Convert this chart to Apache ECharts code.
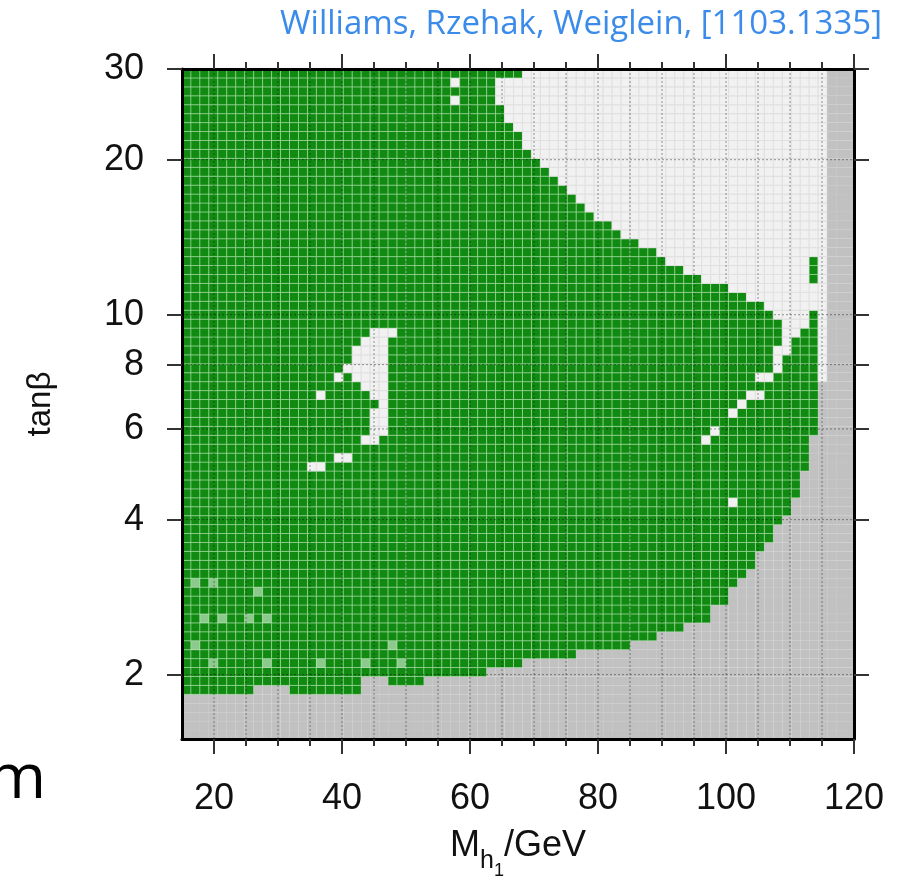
<!DOCTYPE html>
<html><head><meta charset="utf-8">
<script src="https://cdn.jsdelivr.net/npm/echarts@6/dist/echarts.min.js"></script>
<style>html,body{margin:0;padding:0;background:#fff}#c{width:903px;height:876px}</style>
</head><body><div id="c"></div>
<script>
// ---- tick values ----
const massTicksMajor = [20, 40, 60, 80, 100, 120];
const massTicksMinor = [25, 30, 35, 45, 50, 55, 65, 70, 75, 85, 90, 95, 105, 110, 115];
const tanbTicks = [2, 4, 6, 8, 10, 20, 30];

// ---- regions: [M_h1 (GeV), tan beta] ----
// grey: excluded region (bottom + right strip)
const excludedRegion = [
  [15, 1.5], [15, 1.86], [26, 1.86], [26, 1.9], [31.5, 1.9], [31.5, 1.86], [43.2, 1.86],
  [43.2, 1.95], [47, 1.95], [47, 1.9], [53.2, 1.9], [53.2, 1.97], [62, 1.97], [62, 2.04],
  [67.8, 2.04], [67.8, 2.12], [72.5, 2.12], [72.5, 2.14], [77.2, 2.14], [77.2, 2.22],
  [80.3, 2.22], [80.3, 2.26], [85, 2.26], [85, 2.32], [89.7, 2.32], [89.7, 2.42],
  [93.9, 2.42], [93.9, 2.53], [97, 2.53], [97, 2.68], [100.1, 2.68], [100.1, 2.89],
  [102.2, 3.07], [104.8, 3.35], [106.9, 3.67], [108.9, 4.0], [111.1, 4.38], [112, 4.79],
  [113.1, 5.24], [113.6, 5.72], [114.2, 6.26], [114.4, 6.84], [114.8, 7.4],
  [116.4, 7.4], [116.0, 30], [120, 30], [120, 1.5]
];
// light: region not allowed (top right)
const lightRegion = [
  [68.1, 30], [116.0, 30], [116.4, 7.4], [114.8, 7.4], [114.8, 10.0], [113.6, 10.1],
  [112.0, 9.35], [110.0, 8.67], [108.4, 8.07], [106.9, 7.55], [105.8, 7.3],
  [106.4, 7.55], [107.2, 8.07], [108.2, 8.6], [108.4, 9.23], [108.1, 9.91],
  [106.9, 10.3], [104.8, 10.7], [97.9, 11.5], [92.3, 12.4], [88.1, 13.4], [83.4, 14.4],
  [79.8, 15.5], [76.7, 16.7], [73.6, 18.0], [71.2, 19.3], [69.4, 20.9], [67.5, 22.5],
  [65.9, 24.2], [64.4, 26.1], [63.9, 28.1], [63.9, 29.2], [68.1, 29.2]
];
// light island around M_h1 ~ 45 GeV
const lightIsland = [
  [43.9, 9.45], [48.7, 9.45], [47.5, 8.9], [47.5, 6.8], [47.0, 6.2], [46.4, 5.9],
  [44.8, 5.55], [42.8, 5.5], [44.3, 6.0], [45.4, 6.8], [42.3, 7.55], [39.7, 7.6],
  [39.7, 8.1], [41.2, 8.2], [41.2, 8.85], [43.9, 8.9]
];
// isolated light points
const lightPoints = [
  [41, 5.38], [39, 5.26], [36.0, 5.14], [35.2, 5.14], [38.9, 7.42], [37.0, 6.94],
  [57.3, 28.8], [57.9, 26.1],
  [105.8, 7.42], [104.8, 7.1], [103.7, 6.94], [102.8, 6.7], [101.7, 6.46],
  [98.6, 5.91], [97.0, 5.65], [101.7, 4.38], [107.6, 8.0]
];
// faint points in the allowed region (bottom left)
const faintPoints = [
  [16.5, 3.02], [17.3, 2.24], [19.3, 2.14], [20.1, 2.96], [20.6, 2.58], [25.1, 2.58],
  [26.4, 2.89], [27.6, 2.53], [27.6, 2.09], [36.8, 2.14], [43.9, 2.09], [47.2, 2.29],
  [48.6, 2.09], [18.1, 2.58]
];
// isolated allowed (green) points inside the light region
const greenPoints = [[113.5, 11.7], [113.5, 12.3], [113.5, 12.9]];

const MASS_MIN = 15, MASS_MAX = 120, TANB_MIN = 1.5, TANB_MAX = 30;
const NX = 75, NY = 75; // rendering resolution of the scan grid

function inPoly(p, poly) {
  let inside = false;
  for (let i = 0, j = poly.length - 1; i < poly.length; j = i++) {
    const xi = poly[i][0], yi = poly[i][1], xj = poly[j][0], yj = poly[j][1];
    if (((yi > p[1]) !== (yj > p[1])) && (p[0] < (xj - xi) * (p[1] - yi) / (yj - yi) + xi)) inside = !inside;
  }
  return inside;
}

const STYLE = {
  g: { fill: '#118a11', stroke: 'rgba(190,235,190,0.45)', lineWidth: 1 },
  f: { fill: '#8cc98c', stroke: 'rgba(190,235,190,0.45)', lineWidth: 1 },
  w: { fill: '#f1f1f1', stroke: '#e0e0e0', lineWidth: 1 },
  x: { fill: '#c1c1c1' }
};

function renderCells(params, api) {
  const toPx = poly => poly.map(p => api.coord(p));
  const exPx = toPx(excludedRegion), lPx = toPx(lightRegion), iPx = toPx(lightIsland);
  const dx = (MASS_MAX - MASS_MIN) / NX;
  const ratio = TANB_MAX / TANB_MIN;
  const xs = [], ys = [];
  for (let i = 0; i <= NX; i++) xs.push(api.coord([MASS_MIN + i * dx, TANB_MIN])[0]);
  for (let j = 0; j <= NY; j++) ys.push(api.coord([MASS_MIN, TANB_MIN * Math.pow(ratio, j / NY)])[1]);
  const cls = [];
  for (let i = 0; i < NX; i++) {
    cls.push([]);
    for (let j = 0; j < NY; j++) {
      const c = [(xs[i] + xs[i + 1]) / 2, (ys[j] + ys[j + 1]) / 2];
      let k = 'g';
      if (inPoly(c, exPx)) k = 'x';
      if (inPoly(c, lPx) || inPoly(c, iPx)) k = 'w';
      cls[i].push(k);
    }
  }
  const cellOf = p => [Math.floor((p[0] - MASS_MIN) / dx), Math.floor(Math.log(p[1] / TANB_MIN) / Math.log(ratio) * NY)];
  const mark = (pts, k) => pts.forEach(p => { const c = cellOf(p); if (cls[c[0]] && cls[c[0]][c[1]]) cls[c[0]][c[1]] = k; });
  mark(lightPoints, 'w');
  mark(faintPoints, 'f');
  mark(greenPoints, 'g');
  const children = [];
  for (let i = 0; i < NX; i++) {
    for (let j = 0; j < NY; j++) {
      children.push({
        type: 'rect',
        shape: { x: xs[i], y: ys[j + 1], width: xs[i + 1] - xs[i], height: ys[j] - ys[j + 1] },
        style: STYLE[cls[i][j]]
      });
    }
  }
  const dot = { stroke: 'rgba(0,0,0,0.4)', lineWidth: 1, lineDash: [2, 2] };
  massTicksMajor.concat(massTicksMinor).forEach(m => {
    if (m >= MASS_MAX) return;
    const a = api.coord([m, TANB_MIN]), b = api.coord([m, TANB_MAX]);
    children.push({ type: 'line', shape: { x1: a[0], y1: a[1], x2: b[0], y2: b[1] }, style: dot });
  });
  tanbTicks.forEach(t => {
    if (t >= TANB_MAX) return;
    const a = api.coord([MASS_MIN, t]), b = api.coord([MASS_MAX, t]);
    children.push({ type: 'line', shape: { x1: a[0], y1: a[1], x2: b[0], y2: b[1] }, style: dot });
  });
  return { type: 'group', children };
}

const FONT = 'Liberation Sans';
const baseX = {
  type: 'value', gridIndex: 0, min: MASS_MIN, max: MASS_MAX, interval: 5, z: 10,
  splitLine: { show: false }
};
const chart = echarts.init(document.getElementById('c'));
chart.setOption({
  animation: false,
  backgroundColor: '#fff',
  grid: { left: 182, top: 69, right: 49, bottom: 137, containLabel: false, outerBoundsMode: 'none' },
  xAxis: [
    Object.assign({}, baseX, {
      position: 'bottom',
      axisLine: { show: true, onZero: false, lineStyle: { color: '#000', width: 3 } },
      axisTick: { show: true, length: 15, customValues: massTicksMajor, lineStyle: { color: '#333', width: 2 } },
      axisLabel: { show: true, customValues: massTicksMajor, margin: 42, fontSize: 36, fontFamily: FONT, color: '#111' },
      name: '{m|M}{s|h}{ss|1}{m|/GeV}', nameLocation: 'middle', nameGap: 89,
      nameTextStyle: {
        fontFamily: FONT, color: '#111',
        rich: {
          m: { fontSize: 36, fontFamily: FONT, color: '#111', verticalAlign: 'top', lineHeight: 38 },
          s: { fontSize: 25, fontFamily: FONT, color: '#111', verticalAlign: 'top', lineHeight: 27, padding: [21, 0, 0, 0] },
          ss: { fontSize: 18, fontFamily: FONT, color: '#111', verticalAlign: 'top', lineHeight: 20, padding: [34, 0, 0, 0] }
        }
      }
    }),
    Object.assign({}, baseX, {
      position: 'bottom',
      axisLine: { show: false, onZero: false },
      axisTick: { show: true, length: 7, customValues: massTicksMinor, lineStyle: { color: '#333', width: 2 } },
      axisLabel: { show: false }
    }),
    Object.assign({}, baseX, {
      position: 'top',
      axisLine: { show: true, onZero: false, lineStyle: { color: '#000', width: 3 } },
      axisTick: { show: true, length: 15, customValues: massTicksMajor, lineStyle: { color: '#333', width: 2 } },
      axisLabel: { show: false }
    }),
    Object.assign({}, baseX, {
      position: 'top',
      axisLine: { show: false, onZero: false },
      axisTick: { show: true, length: 7, customValues: massTicksMinor, lineStyle: { color: '#333', width: 2 } },
      axisLabel: { show: false }
    })
  ],
  yAxis: [
    {
      type: 'log', logBase: 10, min: TANB_MIN, max: TANB_MAX, position: 'left', z: 10,
      axisLine: { show: true, onZero: false, lineStyle: { color: '#000', width: 3 } },
      axisTick: { show: true, length: 15, customValues: tanbTicks, lineStyle: { color: '#333', width: 2 } },
      axisLabel: { show: true, customValues: tanbTicks, margin: 38, fontSize: 36, fontFamily: FONT, color: '#111', formatter: v => String(v) },
      splitLine: { show: false },
      name: 'tanβ', nameLocation: 'middle', nameRotate: 90, nameGap: 125,
      nameTextStyle: { fontSize: 33, fontFamily: FONT, color: '#111' }
    },
    {
      type: 'log', logBase: 10, min: TANB_MIN, max: TANB_MAX, position: 'right', z: 10,
      axisLine: { show: true, onZero: false, lineStyle: { color: '#000', width: 3 } },
      axisTick: { show: true, length: 15, customValues: tanbTicks, lineStyle: { color: '#333', width: 2 } },
      axisLabel: { show: false },
      splitLine: { show: false }
    }
  ],
  graphic: [
    { type: 'text', x: 882, y: 25, silent: true,
      style: { text: 'Williams, Rzehak, Weiglein, [1103.1335]', fill: '#3b8bea', fontSize: 33, fontFamily: 'Open Sans', align: 'right', verticalAlign: 'middle' } },
    { type: 'text', x: 46, y: 780, silent: true,
      style: { text: 'm', fill: '#000', fontSize: 63, fontFamily: 'Open Sans', align: 'right', verticalAlign: 'middle' } }
  ],
  series: [{
    type: 'custom', coordinateSystem: 'cartesian2d', xAxisIndex: 0, yAxisIndex: 0,
    silent: true, clip: false,
    renderItem: renderCells,
    data: [[MASS_MIN, TANB_MIN]]
  }]
});
</script></body></html>
